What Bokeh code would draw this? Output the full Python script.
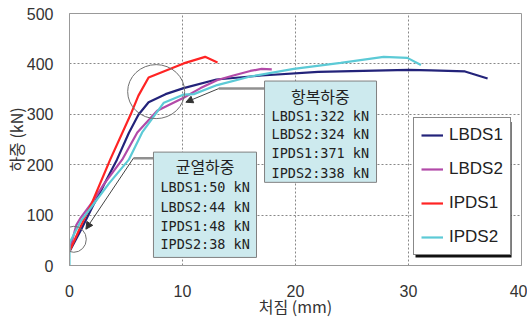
from bokeh.plotting import figure
from bokeh.models import Range1d, FixedTicker, Legend, LegendItem, Arrow, NormalHead
from bokeh.core.properties import value
from bokeh.embed import file_html
from bokeh.resources import INLINE

# ---- data (deflection mm, load kN) ----
lbds1_x = [0, 1, 2, 3, 4.2, 5.25, 6.1, 7.0, 8.5, 10.1, 13.0, 17.0, 22.0, 26.0, 30.0, 32.0, 35.0, 37.0]
lbds1_y = [28, 70, 115, 158, 210, 263, 299, 324, 340, 352, 369, 377, 384, 386, 388, 387, 385, 371]

lbds2_x = [0, 0.6, 1.0, 2.0, 3.0, 4.66, 6.0, 7.76, 10.1, 11.6, 13.1, 14.5, 16.0, 17.0, 17.9]
lbds2_y = [30, 80, 95, 125, 160, 210, 264, 307, 333, 352, 368, 377, 386, 390, 389]

ipds1_x = [0, 1, 2, 3.6, 5.4, 6.1, 7.0, 10.1, 12.0, 13.1]
ipds1_y = [28, 78, 125, 210, 299, 337, 373, 401, 414, 403]

ipds2_x = [0, 0, 1, 2, 3.5, 5.25, 6.43, 8.35, 10.06, 11.0, 13.07, 16.0, 19.85, 24.0, 27.8, 29.9, 31.1]
ipds2_y = [0, 45, 88, 118, 163, 210, 264, 323, 339, 340, 358, 375, 390, 402, 414, 412, 398]

series_names = ["LBDS1", "LBDS2", "IPDS1", "IPDS2"]
series_colors = ["#23237a", "#b24aa8", "#ff2424", "#5ccad6"]

x_ticks = [0, 10, 20, 30, 40]
y_ticks = [0, 100, 200, 300, 400, 500]

yield_title = "항복하중"
yield_lines = ["LBDS1:322 kN", "LBDS2:324 kN", "IPDS1:371 kN", "IPDS2:338 kN"]
crack_title = "균열하중"
crack_lines = ["LBDS1:50 kN", "LBDS2:44 kN", "IPDS1:48 kN", "IPDS2:38 kN"]

# ---- figure ----
p = figure(width=527, height=320, x_range=Range1d(0, 40), y_range=Range1d(0, 500),
           output_backend="svg", toolbar_location=None,
           min_border_left=69, min_border_right=6, min_border_top=13, min_border_bottom=54)
p.outline_line_color = "#999999"
p.background_fill_color = "white"
p.border_fill_color = "white"

for ax in (p.xaxis, p.yaxis):
    ax.axis_line_color = "#999999"
    ax.major_tick_line_color = None
    ax.minor_tick_line_color = None
    ax.major_tick_out = 0
    ax.major_tick_in = 0
    ax.major_label_text_font = "Liberation Sans"
    ax.major_label_text_font_size = "16px"
    ax.major_label_text_color = "#333333"
    ax.axis_label_text_font = "Noto Sans CJK KR"
    ax.axis_label_text_font_size = "16px"
    ax.axis_label_text_font_style = "normal"
    ax.axis_label_text_color = "#333333"

p.xaxis.ticker = FixedTicker(ticks=x_ticks)
p.yaxis.ticker = FixedTicker(ticks=y_ticks)
p.xaxis.major_label_standoff = 19
p.yaxis.major_label_standoff = 16
p.xaxis.axis_label = "처짐 (mm)"
p.yaxis.axis_label = "하중 (kN)"
p.xaxis.axis_label_standoff = -6
p.yaxis.axis_label_standoff = -4

p.xgrid.ticker = FixedTicker(ticks=x_ticks[1:-1])
p.ygrid.ticker = FixedTicker(ticks=y_ticks[1:-1])
for g in (p.xgrid, p.ygrid):
    g.grid_line_color = "#888888"
    g.grid_line_dash = "2 2"
    g.grid_line_width = 1

# ---- curves ----
xs = [lbds1_x, lbds2_x, ipds1_x, ipds2_x]
ys = [lbds1_y, lbds2_y, ipds1_y, ipds2_y]
renderers = []
for x, y, c in zip(xs, ys, series_colors):
    renderers.append(p.line(x, y, line_color=c, line_width=2.2))

# ---- annotations: circles, leaders, boxes ----
ann_gray = "#707070"
p.ellipse(x=[7.67], y=[345], width=57, height=54, width_units="screen", height_units="screen",
          fill_color=None, line_color=ann_gray, line_width=1)
p.ellipse(x=[0.38], y=[52], width=25, height=26, width_units="screen", height_units="screen",
          fill_color=None, line_color=ann_gray, line_width=1)

leader_color = "#909090"
p.line([13.2, 17.3], [351, 351], line_color=leader_color, line_width=2.5)
p.line([5.66, 7.45], [213, 213], line_color=leader_color, line_width=2.5)
p.add_layout(Arrow(end=NormalHead(size=7, fill_color="#333333", line_color="#333333"),
                   x_start=13.2, y_start=351, x_end=10.3, y_end=324,
                   line_color="#444444", line_width=1))
p.add_layout(Arrow(end=NormalHead(size=7, fill_color="#333333", line_color="#333333"),
                   x_start=5.66, y_start=213, x_end=1.45, y_end=72,
                   line_color="#444444", line_width=1))

box_fill = "#cdeaee"
box_line = "#808080"
p.quad(left=[17.26], right=[27.17], bottom=[165], top=[366],
       fill_color=box_fill, line_color=box_line, line_width=1)
p.quad(left=[7.43], right=[16.55], bottom=[16], top=[225],
       fill_color=box_fill, line_color=box_line, line_width=1)

p.text(x=[22.2], y=[337], text=[yield_title], text_align="center", text_baseline="middle",
       text_font=value("Noto Sans CJK KR"), text_font_size="16px", text_color="#222222")
p.text(x=[22.2] * 4, y=[297, 260, 222.5, 184.5], text=yield_lines, text_align="center",
       text_baseline="middle", text_font=value("DejaVu Sans Mono"), text_font_size="13.5px",
       text_color="#222222")
p.text(x=[12.0], y=[198], text=[crack_title], text_align="center", text_baseline="middle",
       text_font=value("Noto Sans CJK KR"), text_font_size="16px", text_color="#222222")
p.text(x=[12.0] * 4, y=[156, 117, 79, 42], text=crack_lines, text_align="center",
       text_baseline="middle", text_font=value("DejaVu Sans Mono"), text_font_size="13.5px",
       text_color="#222222")

# ---- legend with drop shadow ----
p.quad(left=[30.62], right=[39.12], bottom=[15.8], top=[284.6], fill_color="#111111", line_color=None)
legend = Legend(items=[LegendItem(label=n, renderers=[r]) for n, r in zip(series_names, renderers)],
                location=(344, 10), orientation="vertical",
                label_text_font="Liberation Sans", label_text_font_size="17px",
                label_text_color="#222222", glyph_width=22, glyph_height=20, label_height=20,
                label_standoff=6, spacing=14, padding=7, margin=0,
                border_line_color="#111111", border_line_width=1,
                background_fill_color="white", background_fill_alpha=1.0)
p.add_layout(legend)

open("out.html", "w").write(file_html(p, INLINE))
